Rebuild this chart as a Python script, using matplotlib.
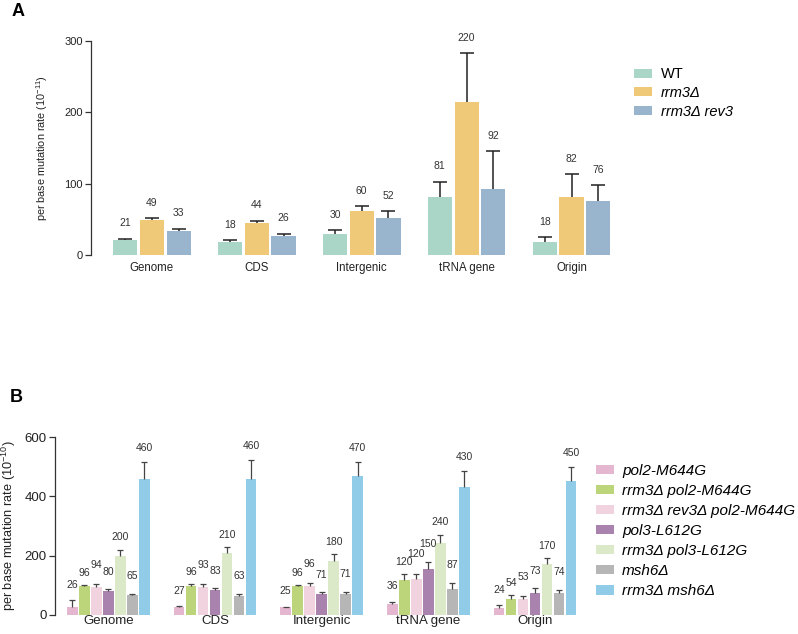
import matplotlib
matplotlib.use("Agg")
import matplotlib.pyplot as plt
import numpy as np

plt.rcParams['font.family'] = ['Liberation Sans', 'DejaVu Sans']
plt.rcParams['mathtext.fontset'] = 'custom'
plt.rcParams['mathtext.rm'] = 'Liberation Sans'
plt.rcParams['mathtext.it'] = 'Liberation Sans:italic'

# ---------------- data ----------------
categories = ["Genome", "CDS", "Intergenic", "tRNA gene", "Origin"]

# Panel A (10^-11)
a_series = ["WT", "rrm3Δ", "rrm3Δ rev3"]
a_colors = ["#a9d6c6", "#efc878", "#99b5cd"]
a_wt = [21, 18, 30, 81, 18]
a_rrm3 = [49, 45, 61, 215, 82]
a_rev3 = [34, 26, 52, 92, 76]
a_wt_top = [23, 21, 35, 103, 25]
a_rrm3_top = [52, 48, 68, 283, 113]
a_rev3_top = [37, 30, 61, 146, 98]
a_wt_lab = ["21", "18", "30", "81", "18"]
a_rrm3_lab = ["49", "44", "60", "220", "82"]
a_rev3_lab = ["33", "26", "52", "92", "76"]

# Panel B (10^-10)
b_series = ["pol2-M644G", "rrm3Δ pol2-M644G", "rrm3Δ rev3Δ pol2-M644G",
            "pol3-L612G", "rrm3Δ pol3-L612G", "msh6Δ", "rrm3Δ msh6Δ"]
b_colors = ["#e5b6cf", "#bcd57a", "#f1d3df", "#a983ae", "#dce9c9", "#b6b6b6", "#90cce8"]
b_pol2 = [26, 27, 25, 36, 24]
b_rrm3_pol2 = [96, 97, 96, 116, 53]
b_rrm3_rev3_pol2 = [94, 94, 96, 121, 53]
b_pol3 = [79, 84, 71, 153, 73]
b_rrm3_pol3 = [200, 210, 183, 243, 173]
b_msh6 = [65, 62, 71, 87, 73]
b_rrm3_msh6 = [459, 459, 470, 431, 451]
b_pol2_top = [49, 30, 27, 44, 33]
b_rrm3_pol2_top = [102, 103, 102, 137, 66]
b_rrm3_rev3_pol2_top = [103, 103, 106, 139, 62]
b_pol3_top = [87, 90, 77, 179, 90]
b_rrm3_pol3_top = [219, 228, 205, 270, 191]
b_msh6_top = [71, 69, 78, 107, 84]
b_rrm3_msh6_top = [517, 522, 517, 485, 499]
b_pol2_lab = ["26", "27", "25", "36", "24"]
b_rrm3_pol2_lab = ["96", "96", "96", "120", "54"]
b_rrm3_rev3_pol2_lab = ["94", "93", "96", "120", "53"]
b_pol3_lab = ["80", "83", "71", "150", "73"]
b_rrm3_pol3_lab = ["200", "210", "180", "240", "170"]
b_msh6_lab = ["65", "63", "71", "87", "74"]
b_rrm3_msh6_lab = ["460", "460", "470", "430", "450"]

# label offsets above the error bar (points), per series - style only
b_label_offsets = [11, 8.5, 14, 12.5, 9, 13, 10]

W, H = 798, 634
fig = plt.figure(figsize=(W / 100, H / 100), dpi=100)


def style_axis(ax, tick_fs):
    for s in ["top", "right", "bottom"]:
        ax.spines[s].set_visible(False)
    ax.spines["left"].set_color("#333333")
    ax.spines["left"].set_linewidth(0.9)
    ax.tick_params(axis="y", direction="out", length=4, width=0.9, color="#333333",
                   labelsize=tick_fs, labelcolor="#222222", pad=2)


def upper_errorbar(ax, xs, vals, tops, color, lw, cap):
    eb = ax.errorbar(xs, vals, yerr=[np.zeros_like(vals), tops - vals], fmt="none",
                     ecolor=color, elinewidth=lw, capsize=cap, capthick=lw, zorder=3)
    caps = eb[1]
    if len(caps) == 2:
        caps[0].set_visible(False)


# ---------------- Panel A ----------------
axA = fig.add_axes([91 / W, 1 - 255 / H, 533 / W, 214 / H])
xA = np.arange(len(categories))
wA = 0.23
pitchA = 0.255
a_vals = [a_wt, a_rrm3, a_rev3]
a_tops = [a_wt_top, a_rrm3_top, a_rev3_top]
a_labs = [a_wt_lab, a_rrm3_lab, a_rev3_lab]
a_handles = []
for i, (vals, tops, labs) in enumerate(zip(a_vals, a_tops, a_labs)):
    xs = xA + (i - 1) * pitchA
    vals = np.array(vals, dtype=float)
    tops = np.array(tops, dtype=float)
    bc = axA.bar(xs, vals, width=wA, color=a_colors[i], label=a_series[i], zorder=2)
    a_handles.append(bc)
    upper_errorbar(axA, xs, vals, tops, "#222222", 1.1, 5)
    for x, t, l in zip(xs, tops, labs):
        axA.annotate(l, (x, t), xytext=(0, 11), textcoords="offset points",
                     ha="center", va="center", fontsize=7.5, color="#333333")
axA.set_xlim(-0.58, 4.5)
axA.set_ylim(0, 300)
axA.set_yticks([0, 100, 200, 300])
axA.set_xticks(xA)
axA.set_xticklabels(categories, fontsize=8.3, color="#222222")
axA.tick_params(axis="x", length=0, pad=5)
style_axis(axA, 8)
axA.set_ylabel("per base mutation rate (10$^{-11}$)", fontsize=7.8, color="#222222", labelpad=10)

legA = fig.legend(handles=a_handles, labels=a_series, loc="center left",
                  bbox_to_anchor=(634 / W, 1 - 93 / H), frameon=False, fontsize=10.5,
                  handlelength=1.25, handleheight=0.55, handletextpad=0.6,
                  labelspacing=0.32, borderpad=0, borderaxespad=0)
for t in legA.get_texts()[1:]:
    t.set_style("italic")

fig.text(12 / W, 1 - 11 / H, "A", fontsize=13, fontweight="bold", va="center", ha="left")

# ---------------- Panel B ----------------
axB = fig.add_axes([55 / W, 1 - 614.7 / H, 528 / W, 177.4 / H])
xB = np.arange(len(categories))
wB = 0.1
pitchB = 0.1125
b_vals = [b_pol2, b_rrm3_pol2, b_rrm3_rev3_pol2, b_pol3, b_rrm3_pol3, b_msh6, b_rrm3_msh6]
b_tops = [b_pol2_top, b_rrm3_pol2_top, b_rrm3_rev3_pol2_top, b_pol3_top,
          b_rrm3_pol3_top, b_msh6_top, b_rrm3_msh6_top]
b_labs = [b_pol2_lab, b_rrm3_pol2_lab, b_rrm3_rev3_pol2_lab, b_pol3_lab,
          b_rrm3_pol3_lab, b_msh6_lab, b_rrm3_msh6_lab]
b_handles = []
for i, (vals, tops, labs) in enumerate(zip(b_vals, b_tops, b_labs)):
    xs = xB + (i - 3) * pitchB
    vals = np.array(vals, dtype=float)
    tops = np.array(tops, dtype=float)
    bc = axB.bar(xs, vals, width=wB, color=b_colors[i], label=b_series[i], zorder=2)
    b_handles.append(bc)
    upper_errorbar(axB, xs, vals, tops, "#444444", 0.9, 2.5)
    for x, t, l in zip(xs, tops, labs):
        axB.annotate(l, (x, t), xytext=(0, b_label_offsets[i]), textcoords="offset points",
                     ha="center", va="center", fontsize=7.5, color="#333333")
axB.set_xlim(-0.5, 4.45)
axB.set_ylim(0, 600)
axB.set_yticks([0, 200, 400, 600])
axB.set_xticks(xB)
axB.set_xticklabels(categories, fontsize=9.5, color="#222222")
axB.tick_params(axis="x", length=0, pad=0)
style_axis(axB, 9.5)
axB.set_ylabel("per base mutation rate (10$^{-10}$)", fontsize=9.2, color="#222222", labelpad=5)

legB = fig.legend(handles=b_handles, labels=b_series, loc="center left",
                  bbox_to_anchor=(596 / W, 1 - 531 / H), frameon=False,
                  prop={"style": "italic", "size": 11},
                  handlelength=1.2, handleheight=0.55, handletextpad=0.5,
                  labelspacing=0.4, borderpad=0, borderaxespad=0)

fig.text(10 / W, 1 - 398 / H, "B", fontsize=13, fontweight="bold", va="center", ha="left")

fig.savefig("out.png", dpi=100)
